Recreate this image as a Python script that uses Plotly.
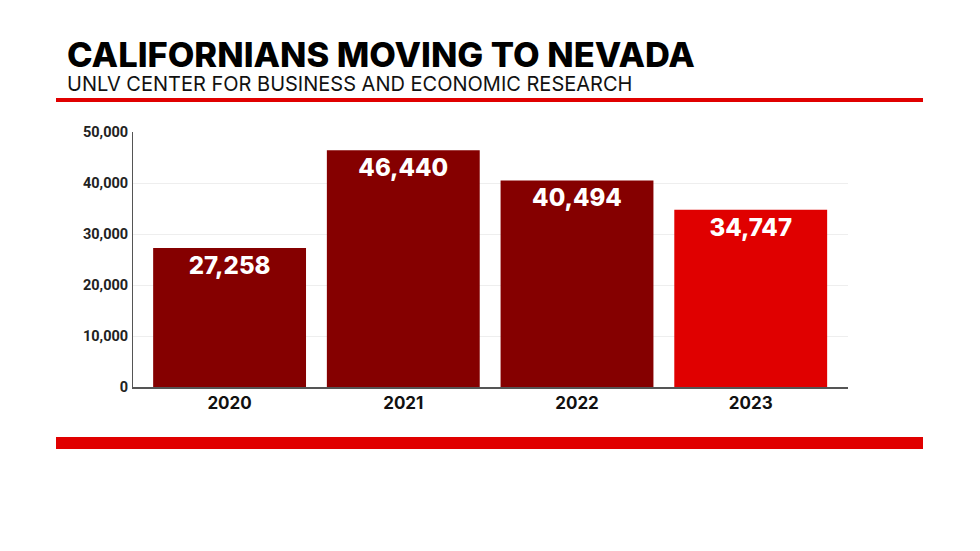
import plotly.graph_objects as go

# data
years = ["2020", "2021", "2022", "2023"]
movers = [27258, 46440, 40494, 34747]
bar_colors = ["#850000", "#850000", "#850000", "#e00000"]

title = "CALIFORNIANS MOVING TO NEVADA"
subtitle = "UNLV CENTER FOR BUSINESS AND ECONOMIC RESEARCH"

# the page body has an 8px margin, so work in page pixels minus that
OFF = 8
FW, FH = 980 - OFF, 551 - OFF
L, R, T, B = 133 - OFF, 848 - OFF, 132 - OFF, 387 - OFF
W, H = R - L, B - T


def px_x(x):
    return (x - OFF - L) / W


def px_y(y):
    return (B - (y - OFF)) / H


fig = go.Figure()

fig.add_trace(go.Bar(
    x=years,
    y=movers,
    marker=dict(color=bar_colors, line=dict(width=0)),
    text=[f"{v:,}" for v in movers],
    textposition="inside",
    insidetextanchor="end",
    textangle=0,
    textfont=dict(family="Inter", size=24, color="white", weight=800),
    cliponaxis=False,
    hoverinfo="skip",
))

fig.update_layout(
    width=FW, height=FH,
    margin=dict(l=L, r=FW - R, t=T, b=FH - B),
    paper_bgcolor="white",
    plot_bgcolor="white",
    showlegend=False,
    bargap=0.12,
    uniformtext=dict(minsize=24, mode="show"),
    xaxis=dict(
        range=[-0.556, 3.56],
        showgrid=False,
        showline=True, linecolor="#555555", linewidth=1.5,
        ticks="",
        tickfont=dict(family="Inter", size=17, color="#111111", weight=700),
        fixedrange=True,
    ),
    yaxis=dict(
        range=[0, 50000],
        dtick=10000,
        tickformat=",",
        showgrid=True, gridcolor="#eeeeee", gridwidth=1,
        showline=True, linecolor="#555555", linewidth=1,
        zeroline=False,
        ticks="",
        ticklabelstandoff=1,
        tickfont=dict(family="Liberation Sans Narrow, Roboto", size=14.5,
                      color="#222222", weight=700),
        fixedrange=True,
    ),
)

# header text
fig.add_annotation(
    text=title, xref="paper", yref="paper",
    x=px_x(65), y=px_y(54), xanchor="left", yanchor="middle",
    showarrow=False,
    font=dict(family="Inter", size=34.5, color="#000000", weight=800),
)
fig.add_annotation(
    text=subtitle, xref="paper", yref="paper",
    x=px_x(65), y=px_y(83.5), xanchor="left", yanchor="middle",
    showarrow=False,
    font=dict(family="Inter", size=20, color="#111111", weight=400),
)

# red rules
fig.add_shape(type="rect", xref="paper", yref="paper",
              x0=px_x(56), x1=px_x(923), y0=px_y(102), y1=px_y(98),
              fillcolor="#e00000", line=dict(width=0))
fig.add_shape(type="rect", xref="paper", yref="paper",
              x0=px_x(56), x1=px_x(923), y0=px_y(449), y1=px_y(437),
              fillcolor="#e00000", line=dict(width=0))

fig.write_html("out.html")
